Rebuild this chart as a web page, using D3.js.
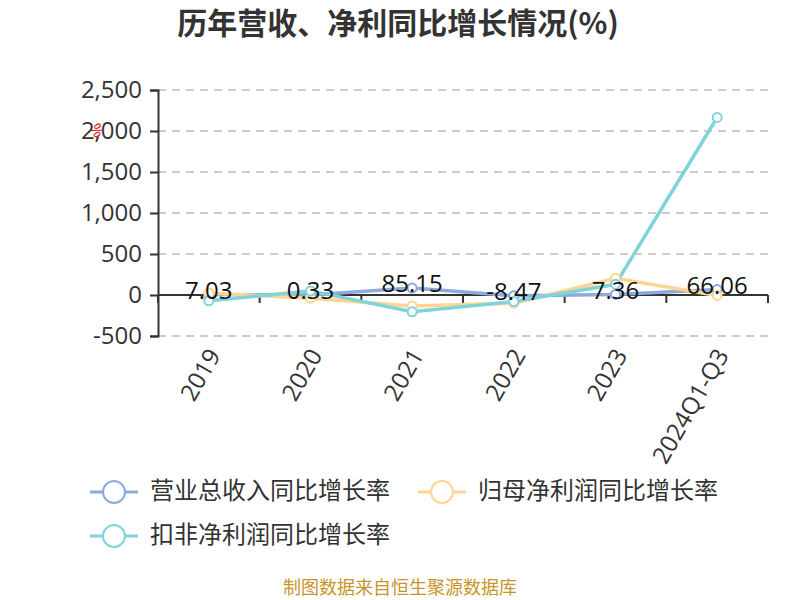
<!DOCTYPE html>
<html>
<head>
<meta charset="utf-8">
<script src="https://cdn.jsdelivr.net/npm/d3@7"></script>
<style>
  body { margin: 0; background: #fff; }
  text { font-family: "Open Sans", "Noto Sans CJK SC", sans-serif; }
</style>
</head>
<body>
<svg id="chart" width="800" height="600"></svg>
<script>
// DATA
const categories = ["2019", "2020", "2021", "2022", "2023", "2024Q1-Q3"];
const revenueGrowth = [7.03, 0.33, 85.15, -8.47, 7.36, 66.06];
const netProfitGrowth = [25, -40, -135, -100, 205, -5];
const deductedProfitGrowth = [-70, 50, -205, -80, 130, 2165];
const yTicks = [-500, 0, 500, 1000, 1500, 2000, 2500];

const series = [
  { name: "营业总收入同比增长率", values: revenueGrowth, color: "#8ea9db" },
  { name: "归母净利润同比增长率", values: netProfitGrowth, color: "#ffd591" },
  { name: "扣非净利润同比增长率", values: deductedProfitGrowth, color: "#80d4d9" },
];

// CANVAS SETUP
const svg = d3.select("#chart");
const margin = { top: 90, right: 32, bottom: 264, left: 158 };
const width = 800 - margin.left - margin.right,
  height = 600 - margin.top - margin.bottom;

const x = d3.scaleBand().domain(categories).range([0, width]);
const y = d3.scaleLinear().domain([-500, 2500]).range([height, 0]);
const fmt = (d) => d3.format(",")(d).replace("−", "-");

const g = svg.append("g").attr("transform", `translate(${margin.left},${margin.top})`);

// title
svg.append("text")
  .attr("x", 398).attr("y", 34)
  .attr("text-anchor", "middle")
  .attr("font-size", 30).attr("font-weight", "bold")
  .attr("fill", "#333")
  .style("font-family", "'Noto Sans CJK SC', sans-serif")
  .text("历年营收、净利同比增长情况(%)");

// grid
g.append("g")
  .selectAll("line")
  .data(yTicks.filter((d) => d !== 0))
  .join("line")
  .attr("x1", 0).attr("x2", width)
  .attr("y1", (d) => y(d)).attr("y2", (d) => y(d))
  .attr("stroke", "#ccc").attr("stroke-width", 2)
  .attr("stroke-dasharray", "8,6");

// y axis
const gy = g.append("g")
  .call(d3.axisLeft(y).tickValues(yTicks).tickSize(8).tickPadding(8).tickFormat(fmt));
gy.select(".domain").attr("stroke", "#333").attr("stroke-width", 2);
gy.selectAll(".tick line").attr("stroke", "#333").attr("stroke-width", 2);
gy.selectAll(".tick text").attr("font-size", 24).attr("fill", "#333")
  .style("font-family", "'Open Sans', sans-serif");

// x axis at zero
const gx = g.append("g").attr("transform", `translate(0,${y(0)})`);
gx.append("line").attr("x1", 0).attr("x2", width).attr("stroke", "#333").attr("stroke-width", 2);
gx.selectAll(".xtick")
  .data(d3.range(categories.length + 1))
  .join("line")
  .attr("x1", (i) => i * x.bandwidth()).attr("x2", (i) => i * x.bandwidth())
  .attr("y1", 0).attr("y2", 8)
  .attr("stroke", "#333").attr("stroke-width", 2);

// x labels below the plot
g.append("g")
  .selectAll("text")
  .data(categories)
  .join("text")
  .attr("transform", (d) => `translate(${x(d) + x.bandwidth() / 2 + 7},${height + 16}) rotate(-60)`)
  .attr("text-anchor", "end")
  .attr("dominant-baseline", "middle")
  .attr("font-size", 24).attr("fill", "#333")
  .style("font-family", "'Open Sans', sans-serif")
  .text((d) => d);

// lines
const cx = (i) => x(categories[i]) + x.bandwidth() / 2;
const line = d3.line().x((d, i) => cx(i)).y((d) => y(d));

series.forEach((s) => {
  g.append("path")
    .datum(s.values)
    .attr("d", line)
    .attr("fill", "none")
    .attr("stroke", s.color)
    .attr("stroke-width", 3.5);
});
series.forEach((s) => {
  g.append("g")
    .selectAll("circle")
    .data(s.values)
    .join("circle")
    .attr("cx", (d, i) => cx(i)).attr("cy", (d) => y(d))
    .attr("r", 4.5)
    .attr("fill", "#fff")
    .attr("stroke", s.color).attr("stroke-width", 2);
});

// data labels
g.append("g")
  .selectAll("text")
  .data(revenueGrowth)
  .join("text")
  .attr("x", (d, i) => cx(i)).attr("y", (d) => y(d) - 2)
  .attr("text-anchor", "middle")
  .attr("dominant-baseline", "middle")
  .attr("font-size", 24).attr("fill", "#111")
  .style("font-family", "'Open Sans', sans-serif")
  .text((d) => d.toFixed(2));

// small red unit mark
svg.append("text")
  .attr("transform", "translate(96,131) rotate(60)")
  .attr("text-anchor", "middle").attr("dominant-baseline", "middle")
  .attr("font-size", 16).attr("fill", "#e02020")
  .text("%");

// legend
const legendPos = [[90, 492], [418, 492], [90, 536]];
const lg = svg.append("g").selectAll("g").data(series).join("g")
  .attr("transform", (d, i) => `translate(${legendPos[i][0]},${legendPos[i][1]})`);
lg.append("line").attr("x1", 0).attr("x2", 48)
  .attr("stroke", (d) => d.color).attr("stroke-width", 3);
lg.append("circle").attr("cx", 24).attr("r", 11)
  .attr("fill", "#fff").attr("stroke", (d) => d.color).attr("stroke-width", 2);
lg.append("text").attr("x", 60)
  .attr("dominant-baseline", "middle")
  .attr("font-size", 24).attr("fill", "#333")
  .style("font-family", "'Noto Sans CJK SC', sans-serif")
  .text((d) => d.name);

// footer
svg.append("text")
  .attr("x", 400).attr("y", 589)
  .attr("text-anchor", "middle").attr("dominant-baseline", "middle")
  .attr("font-size", 18).attr("fill", "#c9952b")
  .style("font-family", "'Noto Sans CJK SC', sans-serif")
  .text("制图数据来自恒生聚源数据库");
</script>
</body>
</html>
